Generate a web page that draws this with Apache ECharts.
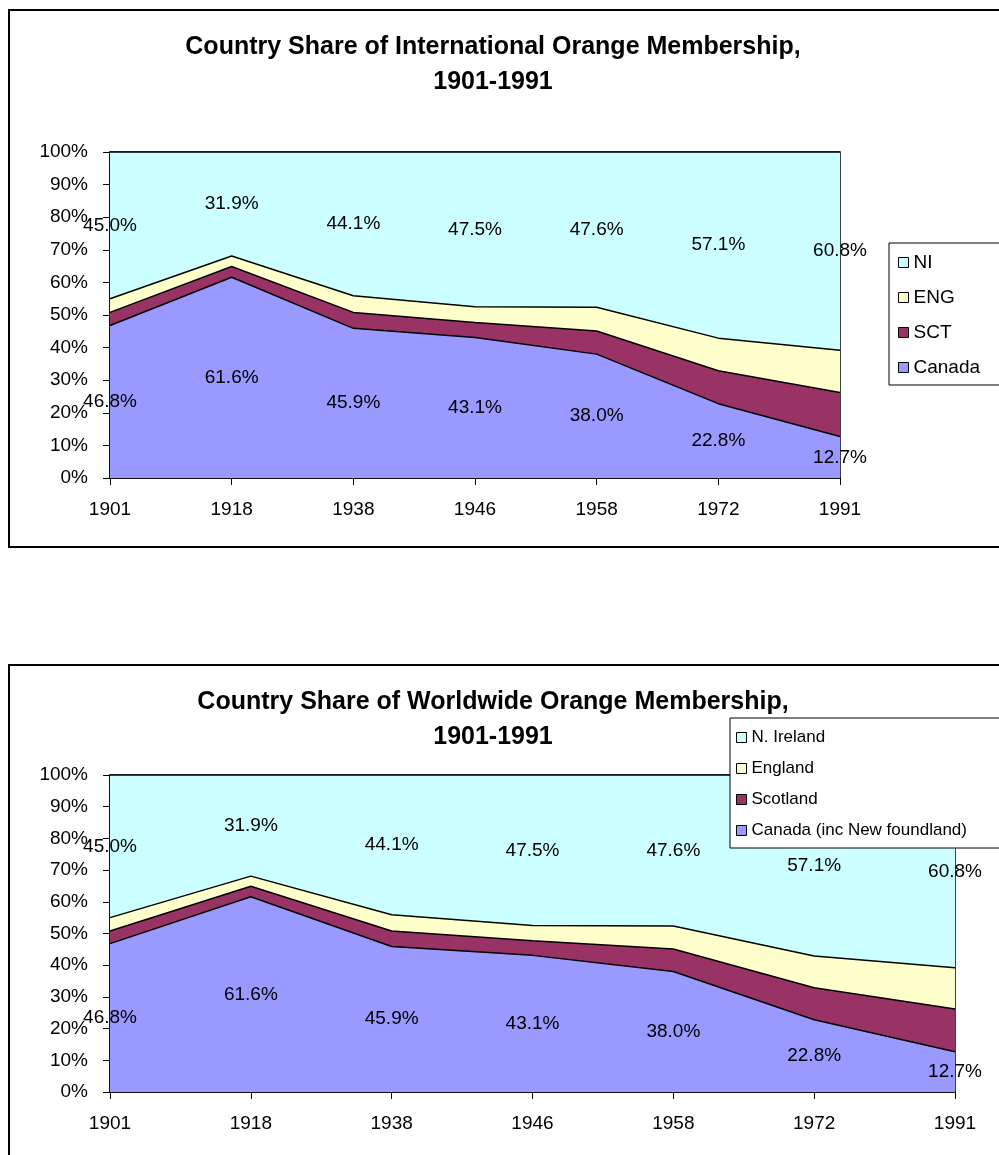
<!DOCTYPE html>
<html>
<head>
<meta charset="utf-8">
<script src="https://cdn.jsdelivr.net/npm/echarts@6/dist/echarts.min.js"></script>
<style>
  html, body { margin: 0; padding: 0; background: #fff; }
  #main { width: 999px; height: 1155px; }
</style>
</head>
<body>
<div id="main"></div>
<script>
// membership shares, % of total (Canada bottom, N. Ireland top)
const years = ['1901', '1918', '1938', '1946', '1958', '1972', '1991']
const canada = [46.8, 61.6, 45.9, 43.1, 38.0, 22.8, 12.7]
const scotland = [4.0, 3.3, 4.9, 4.6, 7.1, 10.1, 13.5]
const england = [4.2, 3.2, 5.1, 4.8, 7.3, 10.0, 13.0]
const nIreland = [45.0, 31.9, 44.1, 47.5, 47.6, 57.1, 60.8]

const namesTop = ['Canada', 'SCT', 'ENG', 'NI']
const namesBottom = ['Canada (inc New foundland)', 'Scotland', 'England', 'N. Ireland']
const colors = ['#9999FF', '#993366', '#FFFFCC', '#CCFFFF']

const font = 'Liberation Sans, Arial, sans-serif'

let chart = echarts.init(document.getElementById('main'))

function buildSeries(gi, names) {
  const values = [canada, scotland, england, nIreland]
  let out = []
  values.forEach((v, k) => {
    out.push({
      name: names[k],
      type: 'line',
      stack: 'share' + gi,
      xAxisIndex: gi,
      yAxisIndex: gi,
      data: v,
      symbol: 'none',
      color: colors[k],
      lineStyle: { color: '#000', width: 1.5 },
      areaStyle: { color: colors[k], opacity: 1 },
      z: 2
    })
  })
  // labels sit in the middle of the Canada and NI bands
  const below = canada.map((c, i) => c + scotland[i] + england[i])
  const labelStyle = {
    show: true,
    position: 'inside',
    color: '#000',
    opacity: 1,
    textBorderWidth: 0,
    fontFamily: font,
    fontSize: 19,
    formatter: p => p.value[2].toFixed(1) + '%'
  }
  const dot = { color: 'transparent', opacity: 1 }
  out.push({
    type: 'scatter', xAxisIndex: gi, yAxisIndex: gi, symbolSize: 1, silent: true, z: 5,
    itemStyle: dot,
    data: canada.map((v, i) => [i, v / 2, v]),
    label: labelStyle
  })
  out.push({
    type: 'scatter', xAxisIndex: gi, yAxisIndex: gi, symbolSize: 1, silent: true, z: 5,
    itemStyle: dot,
    data: nIreland.map((v, i) => [i, below[i] + v / 2, v]),
    label: labelStyle
  })
  return out
}

function xAxis(gi) {
  return {
    type: 'category', gridIndex: gi, data: years, boundaryGap: false,
    axisLine: { lineStyle: { color: '#000', width: 1.5 } },
    axisTick: { show: true, length: 7, lineStyle: { color: '#000' } },
    axisLabel: { color: '#000', fontFamily: font, fontSize: 19, margin: 22 }
  }
}

function yAxis(gi) {
  return {
    type: 'value', gridIndex: gi, min: 0, max: 100, interval: 10,
    axisLine: { show: true, lineStyle: { color: '#000', width: 1.5 } },
    axisTick: { show: true, length: 7, lineStyle: { color: '#000' } },
    splitLine: { show: false },
    axisLabel: { color: '#000', fontFamily: font, fontSize: 19, margin: 22, formatter: '{value}%' }
  }
}

function legend(names, opts) {
  return Object.assign({
    orient: 'vertical',
    icon: 'rect',
    itemWidth: 10,
    itemHeight: 10,
    borderColor: '#000',
    borderWidth: 1,
    backgroundColor: '#fff',
    selectedMode: false,
    itemStyle: { borderColor: '#000', borderWidth: 1 },
    data: names.slice().reverse().map(n => ({ name: n, itemStyle: { color: colors[names.indexOf(n)] } }))
  }, opts)
}

const titleStyle = { color: '#000', fontFamily: font, fontSize: 25, fontWeight: 'bold', lineHeight: 35 }

chart.setOption({
  animation: false,
  backgroundColor: '#fff',
  title: [
    { text: 'Country Share of International Orange Membership,\n1901-1991', left: 488, top: 25, textAlign: 'center', textStyle: titleStyle },
    { text: 'Country Share of Worldwide Orange Membership,\n1901-1991', left: 488, top: 680, textAlign: 'center', textStyle: titleStyle }
  ],
  legend: [
    legend(namesTop, { left: 889, top: 243, itemGap: 16, padding: [10, 50, 8, 9], textStyle: { color: '#000', fontFamily: font, fontSize: 19 } }),
    legend(namesBottom, { left: 730, top: 718, itemGap: 14, padding: [11, 40, 9, 6], textStyle: { color: '#000', fontFamily: font, fontSize: 17 } })
  ],
  grid: [
    { left: 110, top: 152, width: 730, height: 326, show: true, borderColor: '#000', borderWidth: 1.5 },
    { left: 110, top: 775, width: 845, height: 317, show: true, borderColor: '#000', borderWidth: 1.5 }
  ],
  xAxis: [xAxis(0), xAxis(1)],
  yAxis: [yAxis(0), yAxis(1)],
  series: buildSeries(0, namesTop).concat(buildSeries(1, namesBottom)),
  graphic: [
    { type: 'rect', shape: { x: 9, y: 10, width: 1000, height: 537 }, style: { fill: null, stroke: '#000', lineWidth: 2 }, silent: true },
    { type: 'rect', shape: { x: 9, y: 665, width: 1000, height: 520 }, style: { fill: null, stroke: '#000', lineWidth: 2 }, silent: true }
  ]
})
</script>
</body>
</html>
